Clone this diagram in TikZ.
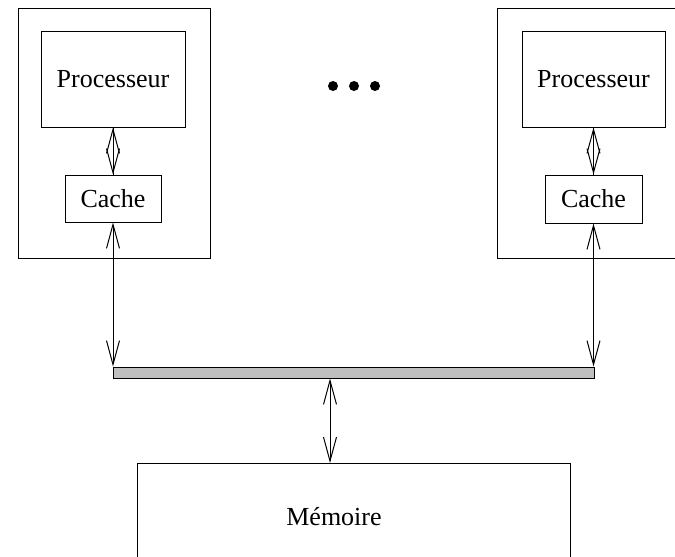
\documentclass[tikz,border=0pt]{standalone}
\usepackage{fontspec}
\setmainfont{Liberation Serif}
\usetikzlibrary{arrows.meta}
\begin{document}
\begin{tikzpicture}[x=1pt,y=-1pt,
  box/.style={draw,line width=1pt,rectangle,inner sep=0pt,
    font=\fontsize{26}{30}\selectfont},
  busline/.style={line width=1pt,
    {Straight Barb[length=24pt,width=13pt,line width=1pt]}-{Straight Barb[length=24pt,width=13pt,line width=1pt]}},
  dotmark/.style={circle,fill,inner sep=0pt,minimum size=10pt},
  txt/.style={font=\fontsize{26}{30}\selectfont,inner sep=0pt}]
\useasboundingbox (0,0) rectangle (675,557);
\clip (0,0) rectangle (675,557);

% left processing element
\node[box,minimum width=192pt,minimum height=250pt] (outerL) at (114,133) {};
\node[box,minimum width=144pt,minimum height=96pt] (procL) at (113,79) {Processeur};
\node[box,minimum width=96pt,minimum height=47pt] (cacheL) at (113,198.5) {Cache};

% right processing element
\node[box,minimum width=192pt,minimum height=250pt] (outerR) at (593,133) {};
\node[box,minimum width=143pt,minimum height=96pt] (procR) at (593.5,79) {Processeur};
\node[box,minimum width=97pt,minimum height=48pt] (cacheR) at (593.5,199) {Cache};

% ellipsis between the elements
\node[dotmark] (dot1) at (333,86) {};
\node[dotmark] (dot2) at (354,86) {};
\node[dotmark] (dot3) at (375,86) {};

% shared bus
\node[draw,line width=1pt,fill=black!25,minimum width=481pt,minimum height=11pt,inner sep=0pt] (bus) at (353.5,372.5) {};

% main memory
\node[box,minimum width=433pt,minimum height=130pt] (mem) at (353.5,528) {};
\node[txt] (memtxt) at (334,517) {Mémoire};
\coordinate (memtop) at (330,463);

% processor <-> cache: two barbs meeting halfway form a diamond
\draw[line width=1pt] (procL.south) -- (cacheL.north);
\draw[busline] (procL.south) -- (cacheL.north);
\draw[line width=1pt] (procR.south) -- (cacheR.north);
\draw[busline] (procR.south) -- (cacheR.north);

% caches <-> bus
\draw[busline] (cacheL.south) -- (cacheL.south |- bus.north);
\draw[busline] (cacheR.south) -- (cacheR.south |- bus.north);

% bus <-> memory
\draw[busline] (memtop |- bus.south) -- (memtop);
\end{tikzpicture}
\end{document}
